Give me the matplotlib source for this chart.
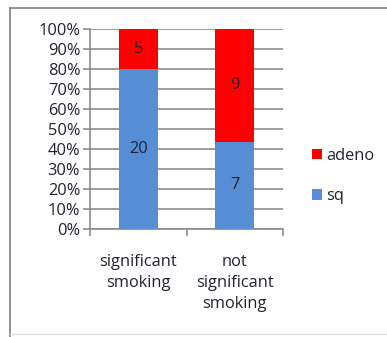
import matplotlib
matplotlib.use("Agg")
import matplotlib.pyplot as plt
from matplotlib.lines import Line2D
from matplotlib.ticker import FixedLocator, PercentFormatter
import numpy as np

categories = ["significant\nsmoking", "not\nsignificant\nsmoking"]
sq = [20, 7]
adeno = [5, 9]

W, H = 387, 337
DPI = 100
fig = plt.figure(figsize=(W / DPI, H / DPI), dpi=DPI)
plt.rcParams["font.family"] = ["Open Sans", "DejaVu Sans"]

text_color = "#22222e"
grid_color = "#8c8c8c"
fs = 11.8

# plot area in pixels
left, right, top, bottom = 90, 283, 29, 229
ax = fig.add_axes([left / W, 1 - bottom / H, (right - left) / W, (bottom - top) / H])

sq_a = np.array(sq, dtype=float)
ad_a = np.array(adeno, dtype=float)
tot = sq_a + ad_a
sq_pct = sq_a / tot * 100
ad_pct = ad_a / tot * 100

x = np.arange(len(categories))
w = 0.4
ax.bar(x, sq_pct, width=w, color="#558ed5", label="sq", zorder=3)
ax.bar(x, ad_pct, width=w, bottom=sq_pct, color="#ff0000", label="adeno", zorder=3)

for i in range(len(x)):
    ax.text(x[i], sq_pct[i] / 2, str(sq[i]), ha="center", va="center",
            fontsize=fs, color=text_color, zorder=4)
    ax.text(x[i], sq_pct[i] + ad_pct[i] / 2, str(adeno[i]), ha="center",
            va="center", fontsize=fs, color=text_color, zorder=4)

ax.set_xlim(-0.5, len(x) - 0.5)
ax.set_ylim(0, 100)
ax.yaxis.set_major_locator(FixedLocator(np.arange(0, 101, 10)))
ax.yaxis.set_major_formatter(PercentFormatter(decimals=0))
ax.grid(axis="y", color=grid_color, linewidth=1.2, zorder=0)

for s in ["top", "right"]:
    ax.spines[s].set_visible(False)
ax.spines["left"].set_color(grid_color)
ax.spines["bottom"].set_color(grid_color)
ax.spines["left"].set_linewidth(1.2)
ax.spines["bottom"].set_linewidth(1.2)

ax.tick_params(axis="y", length=5, width=1.2, color=grid_color,
               labelsize=fs, labelcolor=text_color, pad=2)
ax.set_xticks(x)
ax.set_xticklabels(categories, fontsize=fs, color=text_color, linespacing=1.4)
ax.tick_params(axis="x", length=0, pad=18)
ax.set_xticks(np.arange(-0.5, len(x), 1.0), minor=True)
ax.tick_params(axis="x", which="minor", length=5, width=1.2, color=grid_color)

handles, labels = ax.get_legend_handles_labels()
leg = fig.legend(handles[::-1], labels[::-1], loc="center left",
                 bbox_to_anchor=(297 / W, 1 - 176 / H), frameon=False,
                 fontsize=fs, handlelength=0.6, handleheight=0.6,
                 handletextpad=0.3, labelspacing=1.5)
for t in leg.get_texts():
    t.set_color(text_color)

# outer frame
fig.add_artist(Line2D([10 / W, 10 / W], [0, 1 - 8 / H], transform=fig.transFigure,
                      color="#7f7f7f", linewidth=1.2))
fig.add_artist(Line2D([10 / W, 1], [1 - 8 / H, 1 - 8 / H], transform=fig.transFigure,
                      color="#7f7f7f", linewidth=1.2))
fig.add_artist(Line2D([10 / W, 1], [1 - 334 / H, 1 - 334 / H], transform=fig.transFigure,
                      color="#e0e0e0", linewidth=1.0))

fig.savefig("out.png", dpi=DPI)
